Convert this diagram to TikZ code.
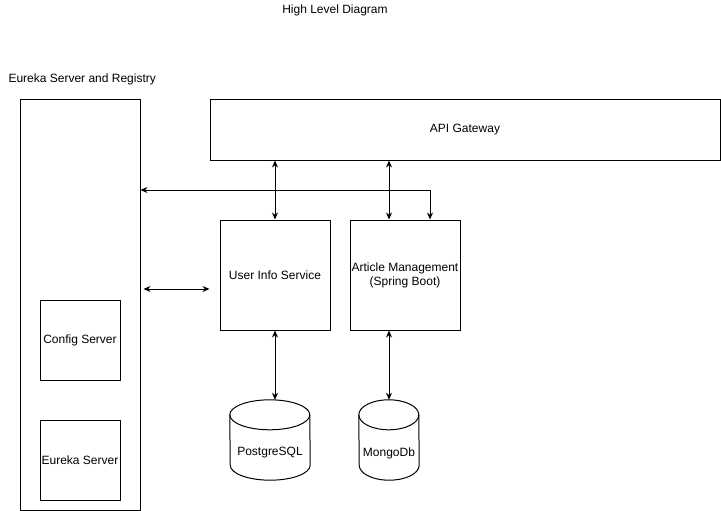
\documentclass[tikz,border=0pt]{standalone}
\usepackage{fontspec}
\setmainfont{Liberation Sans}
\usepackage{tikz}
\usepgflibrary{arrows.meta}
\usetikzlibrary{calc}

% drum outline round a named node: #1 node, #2 half width
\newcommand{\dbdrum}[2]{%
    \draw [line width=1pt] ([yshift=-15pt]#1.north west) arc [start angle=180, end angle=0, x radius=#2, y radius=15pt]
        -- ([yshift=15pt]#1.south east) arc [start angle=0, end angle=-180, x radius=#2, y radius=15pt] -- cycle;
    \draw [line width=1pt] ([yshift=-15pt]#1.north west) arc [start angle=180, end angle=360, x radius=#2, y radius=15pt];
}

\begin{document}
\begin{tikzpicture}[x=1pt,y=-1pt,
        font=\fontsize{12}{14}\selectfont,
        link arrow/.style={
        arrows = {Stealth[length=7pt,width=6pt]-Stealth[length=7pt,width=6pt]},
        line width=1pt
        },
        box/.style={
                draw,
                line width=1pt,
                rectangle,
                inner sep=0pt,
                align=center
            },
        db/.style={
                draw=none,
                rectangle,
                minimum height=80pt,
                inner sep=0pt
            }]
        \useasboundingbox (0,0) rectangle (721,511);

        \node (title) at (335,10) {High Level Diagram};
        \node [anchor=west] (reglabel) at (5,79) {Eureka Server and Registry};

        \node [box, minimum width=120pt, minimum height=410pt] (reg) at (80,305) {};
        \node [box, minimum width=80pt, minimum height=80pt] (config) at (80,340) {Config Server};
        \node [box, minimum width=80pt, minimum height=80pt] (eureka) at ($(config) + (0,120)$) {Eureka Server};

        \node [box, minimum width=510pt, minimum height=60pt] (gateway) at (465,130) {API Gateway};
        \node [box, minimum width=110pt, minimum height=110pt] (users) at (275,275) {User Info Service};
        \node [box, minimum width=110pt, minimum height=110pt] (articles) at ($(users) + (130,0)$) {Article Management\\(Spring Boot)};

        \node [db, minimum width=80pt] (pg) at (270,440) {};
        \node [db, minimum width=60pt] (mongo) at (389,440) {};
        \dbdrum{pg}{40pt}
        \dbdrum{mongo}{30pt}
        \node (pgtext) at ($(pg) + (0,13)$) {PostgreSQL};
        \node (mongotext) at ($(mongo) + (0,13)$) {MongoDb};

        \coordinate (bend) at (430,190);
        \coordinate (mid) at (0,289);

        \draw [link arrow] (gateway.south -| users) to (users.north);
        \draw [link arrow] (gateway.south -| mongo) to (articles.north -| mongo);
        \draw [link arrow] (reg.east |- bend) -- (bend) -- (articles.north -| bend);
        \draw [link arrow] [shorten <=3pt, shorten >=10pt] (reg.east |- mid) to (users.west |- mid);
        \draw [link arrow] (users.south) to (users.south |- pg.north);
        \draw [link arrow] (articles.south -| mongo) to (mongo.north);
    \end{tikzpicture}
\end{document}
